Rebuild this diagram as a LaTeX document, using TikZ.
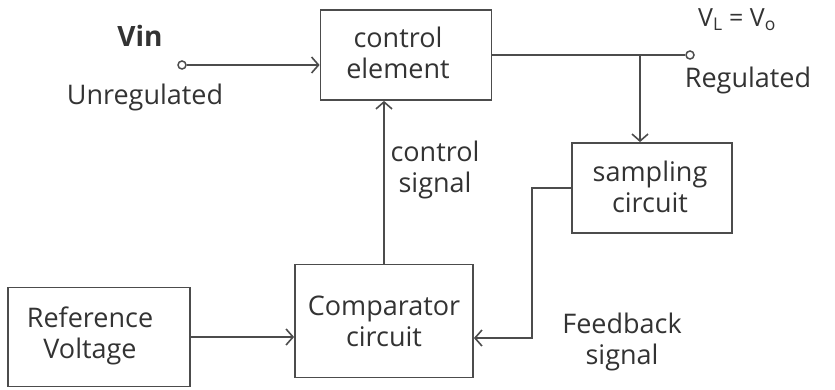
\documentclass[tikz,border=0pt]{standalone}
\usepackage{fontspec}
\setmainfont{Open Sans}
\usetikzlibrary{arrows.meta}
\definecolor{ink}{gray}{0.3}
\definecolor{txt}{gray}{0.2}
\tikzset{
  box/.style={draw=ink, line width=1.8pt, align=center, inner sep=2pt},
  arr/.style={draw=ink, line width=1.8pt, -{Straight Barb[length=7pt,width=16pt,line width=1.6pt]}},
  wire/.style={draw=ink, line width=1.8pt},
  term/.style={circle, draw=ink, line width=1.5pt, inner sep=0pt, minimum size=8pt},
  lbl/.style={text=txt, font=\fontsize{27}{31}\selectfont, align=center, inner sep=0pt},
}
\begin{document}
\begin{tikzpicture}[x=1pt,y=-1pt]
\useasboundingbox (0,0) rectangle (835,390);
\node[box, minimum width=171pt, minimum height=90pt] (ce) at (406,55) {};
\node[box, minimum width=160pt, minimum height=90pt] (sc) at (652,188) {};
\node[box, minimum width=178pt, minimum height=113pt] (cc) at (384,321) {};
\node[box, minimum width=182pt, minimum height=99pt] (rv) at (99,337) {};
\node[lbl] (tce) at (398,53) {control\\element};
\node[lbl] (tsc) at (650,187) {sampling\\circuit};
\node[lbl] (tcc) at (384,321) {Comparator\\circuit};
\node[lbl] (trv) at (90,336) {Reference\\Voltage};
\node[term] (vin) at (182,65) {};
\node[term] (vo) at (690,55) {};
\coordinate (br) at (640,55);
\coordinate (fb) at (532,338);
\node[lbl, font=\fontsize{28}{30}\selectfont\bfseries] (tvin) at (140,36) {Vin};
\node[lbl] (tunreg) at (145,97) {Unregulated};
\node[lbl, font=\fontsize{25}{27}\selectfont] (tvl) at (737,20) {V\textsubscript{L} = V\textsubscript{o}};
\node[lbl] (treg) at (748,80) {Regulated};
\node[lbl] (tcs) at (435,170) {control\\signal};
\node[lbl] (tfb) at (622,342) {Feedback\\signal};
\draw[arr] (vin.east) -- (vin -| ce.west);
\draw[wire] (ce.east |- vo) -- (vo.west);
\draw[arr] (br) -- (br |- sc.north);
\draw[arr] (sc.west) -| (fb) -- (fb -| cc.east);
\draw[arr] (rv.east) -- (rv.east -| cc.west);
\draw[arr] (cc.north) -- (cc.north |- ce.south);
\end{tikzpicture}
\end{document}
